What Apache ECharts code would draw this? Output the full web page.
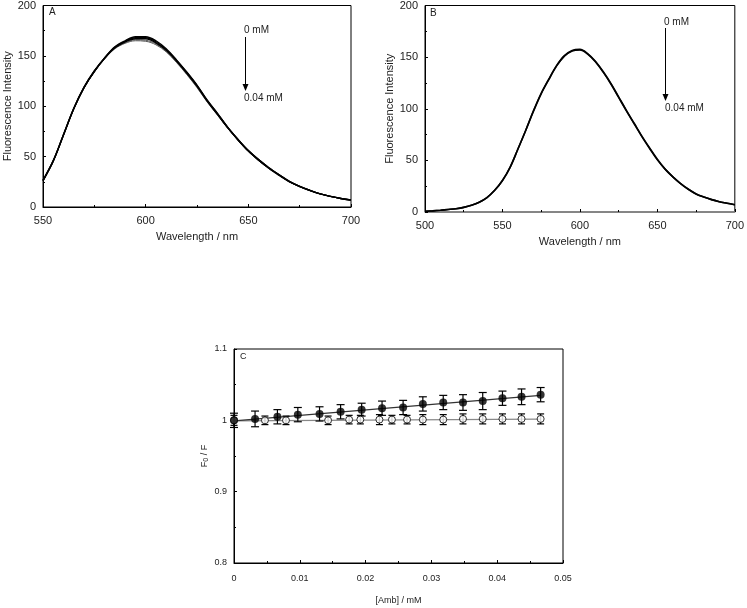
<!DOCTYPE html>
<html><head><meta charset="utf-8">
<script src="https://cdn.jsdelivr.net/npm/echarts@6/dist/echarts.min.js"></script>
<style>html,body{margin:0;padding:0;background:#fff}#c{width:747px;height:608px}</style>
</head><body><div id="c"></div>
<script>
// ---- Panel A data (550-700 nm, step 5) ----
const wlA = [550,555,560,565,570,575,580,585,590,595,600,605,610,615,620,625,630,635,640,645,650,655,660,665,670,675,680,685,690,695,700];
const specA1 = [26.5,46,72,98,119,135,148,159,165,169,169,165,157,146,134,121,106,93,79,67,56,47,39,32,25.5,20.5,16.5,13,10.5,8.5,7];
const specA2 = [26.5,46,72,98,119,135,148,158.5,164.5,168,168,164,156,145.5,133.5,120.5,105.5,92.5,79,67,56,47,39,32,25.5,20.5,16.5,13,10.5,8.5,7];
const specA3 = [26,45.5,71.5,97.5,118.5,134.5,147.5,158,164,167,167,163,155.5,145,133,120,105,92,78.5,66.5,55.5,46.5,38.5,31.5,25,20.5,16.5,13,10.5,8.5,7];
const specA4 = [26,45.5,71.5,97.5,118.5,134,147,157.5,163,166,165.5,162,154.5,144,132,119,104.5,91.5,78,66,55,46,38.5,31.5,25,20,16.5,13,10.5,8.5,7];
const specA5 = [26,45.5,71,97,118,134,147,157,162.5,165,164.5,161,154,143.5,131.5,118.5,104,91,78,66,55,46,38,31,25,20,16,13,10.5,8.5,7];
// ---- Panel B data (500-700 nm, step 5) ----
const wlB = [500,505,510,515,520,525,530,535,540,545,550,555,560,565,570,575,580,585,590,595,600,605,610,615,620,625,630,635,640,645,650,655,660,665,670,675,680,685,690,695,700];
const specB1 = [0.6,1.1,1.7,2.4,3.2,4.5,6.5,9.5,14,21,30.5,43.5,61,79,98,115,129,142,151.5,156.5,157.5,153.5,146,136,124.5,111.5,98.5,86,73.5,62,51,41.5,34,27.5,22,17.5,14.5,12,10,8.5,7];
const specB2 = [0.6,1.1,1.7,2.4,3.2,4.5,6.5,9.5,14,21,30.5,43.5,61,79,97.5,114.5,128.5,141.5,151,156,157,153,145.5,135.5,124,111,98,85.5,73,61.5,50.5,41.5,34,27.5,22,17.5,14.5,12,10,8.5,7];
// ---- Panel C data ----
const ambFilled = [0,0.0032,0.0066,0.0097,0.013,0.0162,0.0194,0.0225,0.0257,0.0287,0.0318,0.0348,0.0378,0.0408,0.0437,0.0466];
const ratioFilled = [1.000,1.002,1.005,1.008,1.009,1.012,1.015,1.017,1.018,1.023,1.025,1.025,1.027,1.031,1.033,1.036];
const errFilled = [0.01,0.011,0.01,0.01,0.01,0.01,0.009,0.01,0.01,0.01,0.01,0.011,0.012,0.01,0.011,0.01];
const ambOpen = [0,0.0047,0.0079,0.0143,0.0175,0.0192,0.0221,0.024,0.0263,0.0287,0.0318,0.0348,0.0378,0.0408,0.0437,0.0466];
const ratioOpen = [1.000,1.000,1.000,1.000,1.001,1.001,1.001,1.001,1.001,1.001,1.001,1.002,1.002,1.002,1.002,1.002];
const errOpen = [0.007,0.006,0.006,0.006,0.006,0.006,0.007,0.006,0.006,0.007,0.007,0.007,0.007,0.007,0.007,0.007];
const fitX = [0, 0.0466];
const fitFilledY = [0.9993, 1.035];
const fitOpenY = [0.9993, 1.0018];

const FONT = '"Liberation Sans", Arial, sans-serif';
const zip = (xs, ys) => xs.map((x, i) => [x, ys[i]]);
const zip3 = (xs, ys, es) => xs.map((x, i) => [x, ys[i], es[i]]);

function axisCommon(size) {
  return {
    axisLine: {show: true, lineStyle: {color: '#000', width: 1}},
    axisTick: {show: true, inside: true, length: 3, lineStyle: {color: '#000'}},
    minorTick: {show: true, splitNumber: 2, length: 2, lineStyle: {color: '#000'}},
    splitLine: {show: false},
    axisLabel: {color: '#222', fontFamily: FONT, fontSize: size},
    nameTextStyle: {color: '#222', fontFamily: FONT, fontSize: size},
    nameLocation: 'middle'
  };
}

const errRender = (w) => function (params, api) {
  const x = api.value(0), y = api.value(1), e = api.value(2);
  const t = api.coord([x, y + e]), b = api.coord([x, y - e]);
  const st = {stroke: '#000', lineWidth: 1.2};
  return {type: 'group', children: [
    {type: 'line', shape: {x1: t[0], y1: t[1], x2: b[0], y2: b[1]}, style: st},
    {type: 'line', shape: {x1: t[0] - w, y1: t[1], x2: t[0] + w, y2: t[1]}, style: st},
    {type: 'line', shape: {x1: b[0] - w, y1: b[1], x2: b[0] + w, y2: b[1]}, style: st}
  ]};
};

function specLine(xAxisIndex, xs, ys, color, width) {
  return {type: 'line', xAxisIndex, yAxisIndex: xAxisIndex, data: zip(xs, ys), showSymbol: false,
    smooth: 0.35, lineStyle: {color, width}, silent: true, animation: false};
}

const chart = echarts.init(document.getElementById('c'), null, {renderer: 'canvas'});
chart.setOption({
  animation: false,
  backgroundColor: '#fff',
  grid: [
    {left: 43, top: 4, width: 308, height: 203, show: true, borderColor: '#000', borderWidth: 1},
    {left: 425, top: 5, width: 314, height: 207, show: true, borderColor: '#000', borderWidth: 1},
    {left: 234, top: 349, width: 329, height: 214, show: true, borderColor: '#000', borderWidth: 1}
  ],
  xAxis: [
    Object.assign(axisCommon(11), {gridIndex: 0, type: 'value', min: 550, max: 700, interval: 50,
      name: 'Wavelength / nm', nameGap: 24, axisLabel: {color: '#222', fontFamily: FONT, fontSize: 11, margin: 8}}),
    Object.assign(axisCommon(11), {gridIndex: 1, type: 'value', min: 500, max: 700, interval: 50,
      name: 'Wavelength / nm', nameGap: 24, axisLabel: {color: '#222', fontFamily: FONT, fontSize: 11, margin: 8},
      axisLine: {show: true, lineStyle: {color: '#888', width: 1.5}}}),
    Object.assign(axisCommon(9), {gridIndex: 2, type: 'value', min: 0, max: 0.05, interval: 0.01,
      name: '[Amb] / mM', nameGap: 33, axisLabel: {color: '#222', fontFamily: FONT, fontSize: 9, margin: 11}})
  ],
  yAxis: [
    Object.assign(axisCommon(11), {gridIndex: 0, type: 'value', min: 0, max: 200, interval: 50,
      name: 'Fluorescence Intensity', nameGap: 30, axisLabel: {color: '#222', fontFamily: FONT, fontSize: 11, margin: 7}}),
    Object.assign(axisCommon(11), {gridIndex: 1, type: 'value', min: 0, max: 200, interval: 50,
      name: 'Fluorescence Intensity', nameGap: 30, axisLabel: {color: '#222', fontFamily: FONT, fontSize: 11, margin: 7}}),
    Object.assign(axisCommon(9), {gridIndex: 2, type: 'value', min: 0.8, max: 1.1, interval: 0.1,
      name: '{a|F}{b|0}{a| / F}', nameGap: 24,
      nameTextStyle: {color: '#222', fontFamily: FONT, fontSize: 9,
        rich: {a: {fontFamily: FONT, fontSize: 9, color: '#222'}, b: {fontFamily: FONT, fontSize: 7, color: '#222', verticalAlign: 'bottom', padding: [3, 0, 0, 0]}}},
      axisLabel: {color: '#222', fontFamily: FONT, fontSize: 9, margin: 7,
        formatter: v => (Math.abs(v - 1) < 1e-9 ? '1' : (Math.round(v * 10) / 10).toString())}})
  ],
  series: [
    specLine(0, wlA, specA5, '#555', 1),
    specLine(0, wlA, specA4, '#555', 1),
    specLine(0, wlA, specA3, '#000', 1.4),
    specLine(0, wlA, specA2, '#000', 1.4),
    specLine(0, wlA, specA1, '#000', 1.4),
    specLine(1, wlB, specB2, '#000', 1.6),
    specLine(1, wlB, specB1, '#000', 1.6),
    {type: 'line', xAxisIndex: 2, yAxisIndex: 2, data: zip(fitX, fitOpenY), showSymbol: false,
      lineStyle: {color: '#888', width: 1.2}, silent: true, z: 2},
    {type: 'line', xAxisIndex: 2, yAxisIndex: 2, data: zip(fitX, fitFilledY), showSymbol: false,
      lineStyle: {color: '#333', width: 1.2}, silent: true, z: 2},
    {type: 'custom', xAxisIndex: 2, yAxisIndex: 2, data: zip3(ambOpen, ratioOpen, errOpen), renderItem: errRender(3.5), z: 3, silent: true},
    {type: 'custom', xAxisIndex: 2, yAxisIndex: 2, data: zip3(ambFilled, ratioFilled, errFilled), renderItem: errRender(4), z: 3, silent: true},
    {type: 'scatter', xAxisIndex: 2, yAxisIndex: 2, data: zip(ambOpen, ratioOpen), symbol: 'circle', symbolSize: 7,
      itemStyle: {color: '#fff', borderColor: '#000', borderWidth: 1}, z: 4, silent: true},
    {type: 'scatter', xAxisIndex: 2, yAxisIndex: 2, data: zip(ambFilled, ratioFilled), symbol: 'circle', symbolSize: 8,
      itemStyle: {color: '#000'}, z: 5, silent: true}
  ],
  graphic: [
    {type: 'text', left: 49, top: 7, style: {text: 'A', font: '10px ' + FONT, fill: '#222'}},
    {type: 'text', left: 430, top: 8, style: {text: 'B', font: '10px ' + FONT, fill: '#222'}},
    {type: 'text', left: 240, top: 352, style: {text: 'C', font: '9px ' + FONT, fill: '#222'}},
    // Panel A arrow
    {type: 'text', left: 244, top: 25, style: {text: '0 mM', font: '10px ' + FONT, fill: '#222'}},
    {type: 'line', shape: {x1: 245.5, y1: 37, x2: 245.5, y2: 86}, style: {stroke: '#000', lineWidth: 1}},
    {type: 'polygon', shape: {points: [[242.5, 84], [248.5, 84], [245.5, 91]]}, style: {fill: '#000'}},
    {type: 'text', left: 244, top: 93, style: {text: '0.04 mM', font: '10px ' + FONT, fill: '#222'}},
    // Panel B arrow
    {type: 'text', left: 664, top: 17, style: {text: '0 mM', font: '10px ' + FONT, fill: '#222'}},
    {type: 'line', shape: {x1: 665.5, y1: 28, x2: 665.5, y2: 96}, style: {stroke: '#000', lineWidth: 1}},
    {type: 'polygon', shape: {points: [[662.5, 94], [668.5, 94], [665.5, 101]]}, style: {fill: '#000'}},
    {type: 'text', left: 665, top: 103, style: {text: '0.04 mM', font: '10px ' + FONT, fill: '#222'}}
  ]
});
</script></body></html>
